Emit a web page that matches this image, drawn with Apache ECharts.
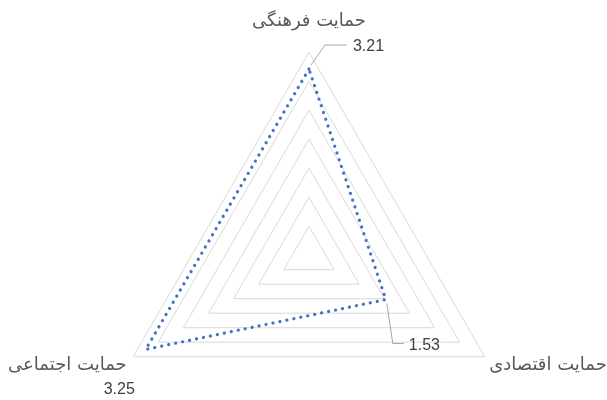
<!DOCTYPE html>
<html>
<head>
<meta charset="utf-8">
<script src="https://cdn.jsdelivr.net/npm/echarts@6/dist/echarts.min.js"></script>
<style>
  html, body { margin: 0; padding: 0; background: #fff; }
  #container { width: 607px; height: 400px; }
</style>
</head>
<body>
<div id="container"></div>
<script>
// indicators (counterclockwise from top)
var indicatorNames = ['حمایت فرهنگی', 'حمایت اجتماعی', 'حمایت اقتصادی'];
var seriesValues = [3.21, 3.25, 1.53];
var axisMax = 3.5;
var ringCount = 7;

var myChart = echarts.init(document.getElementById('container'));

var nameStyle = { fontFamily: 'DejaVu Sans', fontSize: 18, color: '#595959' };

var option = {
    backgroundColor: '#fff',
    animation: false,
    radar: {
        center: ['50.9%', '63.8%'],
        radius: 203,
        shape: 'polygon',
        startAngle: 90,
        splitNumber: ringCount,
        nameGap: 4,
        axisName: {
            color: '#595959',
            fontFamily: 'DejaVu Sans',
            fontSize: 18,
            formatter: function (name) {
                if (name === indicatorNames[0]) return '{top|' + name + '}';
                if (name === indicatorNames[2]) return '{right|' + name + '}';
                return '{left|' + name + '}';
            },
            rich: {
                top: Object.assign({ padding: [0, 0, 18, 0] }, nameStyle),
                right: Object.assign({ padding: [14, 0, 0, 1] }, nameStyle),
                left: Object.assign({ padding: [14, 3, 0, 0] }, nameStyle)
            }
        },
        axisLine: { show: false },
        axisTick: { show: false },
        splitArea: { show: false },
        splitLine: { lineStyle: { color: '#d9d9d9', width: 1 } },
        indicator: indicatorNames.map(function (n) { return { name: n, min: 0, max: axisMax }; })
    },
    series: [{
        type: 'radar',
        symbol: 'none',
        lineStyle: { color: '#4472c4', width: 3.2, type: [0.1, 7], cap: 'round' },
        data: [{ value: seriesValues, name: 'series' }]
    }]
};
myChart.setOption(option);

// data labels + leader lines, placed from the radar's own coordinates
var rc = myChart.getModel().getComponent('radar').coordinateSystem;
var p0 = rc.dataToPoint(seriesValues[0], 0);
var p1 = rc.dataToPoint(seriesValues[1], 1);
var p2 = rc.dataToPoint(seriesValues[2], 2);
var lineStyle = { stroke: '#a6a6a6', lineWidth: 1, fill: null };
var textStyle = { fill: '#404040', font: '16px "Liberation Sans"', textVerticalAlign: 'middle' };
myChart.setOption({
    graphic: [
        { type: 'polyline', shape: { points: [[p0[0] + 2, p0[1] - 4], [p0[0] + 16, p0[1] - 24], [p0[0] + 38, p0[1] - 24]] }, style: lineStyle },
        { type: 'text', x: p0[0] + 44, y: p0[1] - 22, style: Object.assign({ text: seriesValues[0].toFixed(2) }, textStyle) },
        { type: 'polyline', shape: { points: [[p2[0] + 1, p2[1] + 4], [p2[0] + 7, p2[1] + 44], [p2[0] + 18, p2[1] + 44]] }, style: lineStyle },
        { type: 'text', x: p2[0] + 23, y: p2[1] + 46, style: Object.assign({ text: seriesValues[2].toFixed(2) }, textStyle) },
        { type: 'text', x: p1[0] - 42, y: p1[1] + 40, style: Object.assign({ text: seriesValues[1].toFixed(2) }, textStyle) }
    ]
});
</script>
</body>
</html>
